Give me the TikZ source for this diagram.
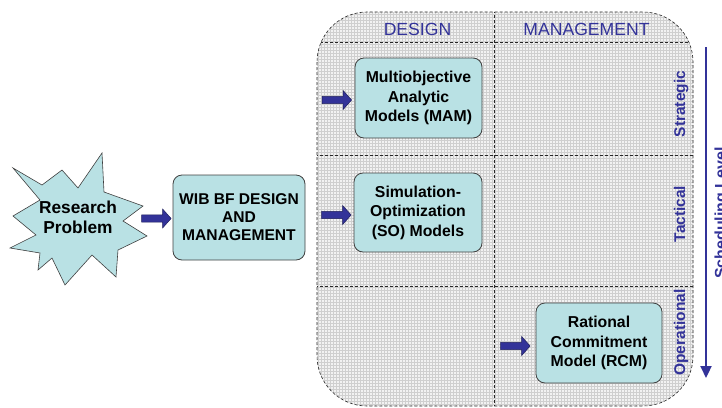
\documentclass[tikz,border=0pt]{standalone}
\usepackage{fontspec}
\setmainfont{Liberation Sans}
\usetikzlibrary{patterns,arrows.meta}
\definecolor{myblue}{HTML}{333399}
\definecolor{boxfill}{HTML}{B9E1E4}
\tikzset{
  pics/fatarrow/.style={code={
    \path[arrowfill] (0,-3.7) -- (21,-3.7) -- (21,-9.5) -- (29.5,0) -- (21,9.5) -- (21,3.7) -- (0,3.7) -- cycle;}},
  arrowfill/.style={fill=myblue, draw=myblue!60!black, line width=0.5pt},
  modelbox/.style={draw=black!75, line width=0.8pt, fill=boxfill, rounded corners=9pt,
    align=center, font=\bfseries\fontsize{15.8}{19.5}\selectfont, inner sep=0pt},
  cellline/.style={draw=black!85, line width=0.6pt, dash pattern=on 3pt off 2pt},
  headtext/.style={text=myblue, font=\fontsize{17.6}{20}\selectfont, anchor=base, inner sep=0pt},
  leveltext/.style={text=myblue, font=\bfseries\fontsize{15.5}{18}\selectfont, rotate=90, anchor=base, inner sep=0pt},
}
\begin{document}
\begin{tikzpicture}[x=1pt,y=-1pt]
\useasboundingbox (0,0) rectangle (722,407);
% container
\def\contpath{(317,12) rectangle (693,406)}
\path[rounded corners=50pt, preaction={fill=gray!10}, pattern=grid, pattern color=gray!38] \contpath;
\begin{scope}
  \clip[rounded corners=50pt] \contpath;
  \draw[cellline] (310,42) -- (700,42);
  \draw[cellline] (310,155) -- (700,155);
  \draw[cellline] (310,286) -- (700,286);
  \draw[cellline] (494,0) -- (494,410);
\end{scope}
\draw[cellline, rounded corners=50pt] \contpath;
% headers
\node[headtext] (hd) at (417.5,35) {DESIGN};
\node[headtext] (hm) at (586.5,35) {MANAGEMENT};
% level labels
\node[leveltext] (ls) at (685,104) {Strategic};
\node[leveltext] (lt) at (685,214) {Tactical};
\node[leveltext] (lo) at (685,332.5) {Operational};
% scheduling level arrow
\coordinate (sa) at (706,47);
\coordinate (sb) at (706,378);
\draw[myblue, line width=2.2pt, -{Triangle[width=11pt,length=12pt]}] (sa) -- (sb);
\node[leveltext, font=\bfseries\fontsize{16}{18}\selectfont] (sl) at (726,213) {Scheduling Level};
% starburst
\draw[fill=boxfill, draw=black!75, line width=0.6pt]
  (102,153) -- (104,192) -- (143,206) -- (123,221) -- (147,236) -- (118,250) --
  (116,277) -- (92,255) -- (65,285) -- (52,258) -- (38,270) -- (40,253) --
  (10,248) -- (36,235) -- (13,216) -- (40,200) -- (13,168) -- (42,185) --
  (62,170) -- (78,188) -- cycle;
\node[align=center, font=\bfseries\fontsize{17.3}{20}\selectfont, inner sep=0pt] (rp) at (78,217) {Research\\Problem};
% boxes
\node[modelbox, minimum width=132pt, minimum height=85pt, font=\bfseries\fontsize{15.6}{18}\selectfont] (wib) at (239,217.5) {WIB BF DESIGN\\AND\\MANAGEMENT};
\node[modelbox, minimum width=127pt, minimum height=80pt] (mam) at (418.5,98) {Multiobjective\\Analytic\\Models (MAM)};
\node[modelbox, minimum width=128pt, minimum height=79pt] (so) at (418,212.5) {Simulation-\\Optimization\\(SO) Models};
\node[modelbox, minimum width=126pt, minimum height=80pt] (rcm) at (599,343) {Rational\\Commitment\\Model (RCM)};
% fat arrows
\pic at ([xshift=-31pt]wib.west |- 0,218.5) {fatarrow};
\pic at ([xshift=-32.5pt]mam.west |- 0,100) {fatarrow};
\pic at ([xshift=-32pt]so.west |- 0,215) {fatarrow};
\pic at ([xshift=-35pt]rcm.west |- 0,346) {fatarrow};
\end{tikzpicture}
\end{document}
